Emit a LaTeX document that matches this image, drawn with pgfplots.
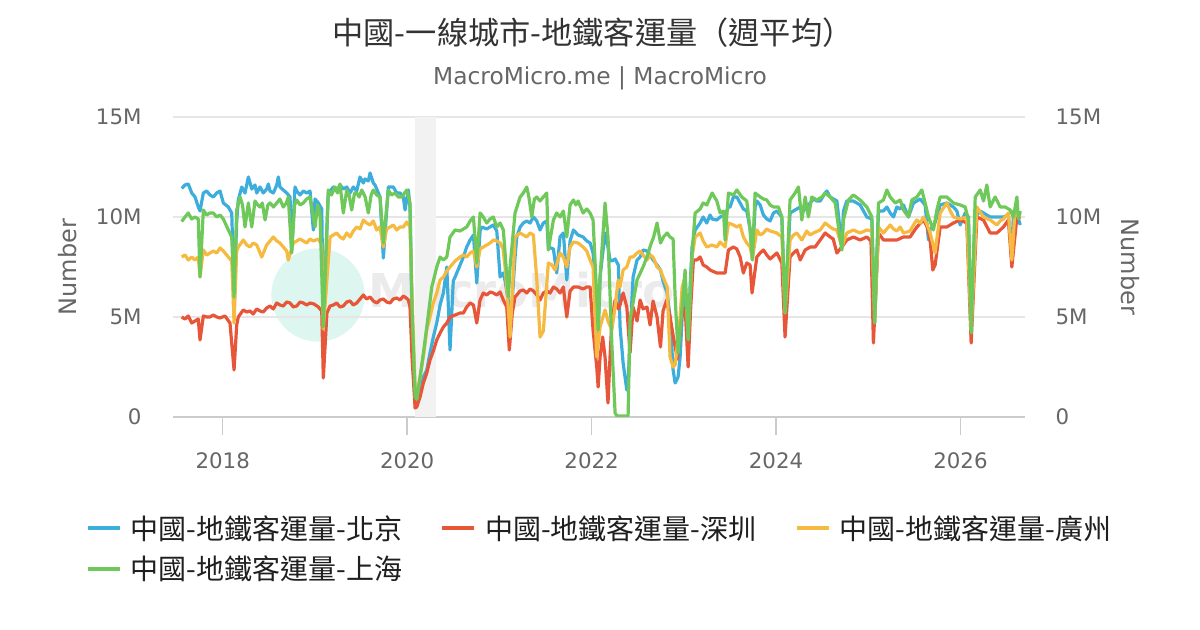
\documentclass[border=0pt]{standalone}
\usepackage{fontspec}
\setmainfont{DejaVu Sans}
\newfontfamily\cjk{Noto Sans CJK TC}
\usepackage{pgfplots}
\pgfplotsset{compat=1.18}
\definecolor{cBJ}{HTML}{3DADDC}
\definecolor{cSZ}{HTML}{E8563A}
\definecolor{cGZ}{HTML}{F5BA3F}
\definecolor{cSH}{HTML}{6EC85A}
\definecolor{cTitle}{HTML}{333333}
\definecolor{cTick}{HTML}{666666}
\definecolor{cGrid}{HTML}{E6E6E6}
\definecolor{cAxis}{HTML}{CCCCCC}
\definecolor{cBand}{HTML}{F2F2F2}
\definecolor{cMint}{HTML}{DDF7F0}
\definecolor{cWm}{HTML}{EBEBEB}
\begin{document}
\begin{tikzpicture}
\path[use as bounding box] (0pt,0pt) rectangle (900pt,472.5pt);
\node[text=cTitle, font=\cjk\fontsize{23.4}{28}\selectfont] at (444.75pt,447.75pt) {中國-一線城市-地鐵客運量（週平均）};
\node[text=cTick, font=\fontsize{17.5}{21}\selectfont] at (450pt,414pt) {MacroMicro.me | MacroMicro};
\fill[cMint] (238.5pt,251.25pt) circle (35pt);
\node[anchor=west, text=cWm, font=\bfseries\fontsize{35}{40}\selectfont, inner sep=0pt] at (276pt,255pt) {MacroMicro};
\begin{axis}[
  at={(129.75pt,159.75pt)}, anchor=south west,
  width=639pt, height=225pt, scale only axis,
  xmin=2017.461, xmax=2026.70, ymin=0, ymax=15,
  axis x line*=bottom, axis y line*=left,
  y axis line style={draw=none},
  x axis line style={draw=cAxis, line width=1.1pt, -},
  xtick={2018,2020,2022,2024,2026},
  xticklabels={2018,2020,2022,2024,2026},
  ytick={0,5,10,15}, yticklabels={0,5M,10M,15M},
  tick align=outside,
  x tick style={draw=cAxis, line width=1.1pt},
  major tick length=13.5pt,
  y tick style={draw=none},
  ymajorgrids, grid style={draw=cGrid, line width=1.1pt},
  ticklabel style={font=\fontsize{16}{19}\selectfont, text=cTick},
  xticklabel style={inner sep=0pt, yshift=-13pt},
  yticklabel style={inner sep=0pt, xshift=-10pt},
  ylabel={Number},
  every axis y label/.style={at={(axis description cs:-0.1232,0.5)}, rotate=90, anchor=center, font=\fontsize{18}{21}\selectfont, text=cTick},
  legend style={draw=none, fill=none, at={(axis description cs:0,0)}, anchor=north west, xshift=-65.25pt, yshift=-73.5pt, legend columns=3, inner sep=0pt, font=\cjk\fontsize{21}{25}\selectfont, text=black!88, nodes={inner sep=0pt}, row sep=11.25pt, /tikz/every odd column/.append style={column sep=6.75pt}},
  legend cell align=left,
  legend image code/.code={\draw[#1, line width=2.6pt] (0pt,0pt) -- (24pt,0pt);},
  every axis plot/.append style={line width=2.4pt, line join=round},
]
\addplot[draw=none, fill=cBand, forget plot] coordinates {(2020.09,15) (2020.31,15)} \closedcycle;

\addplot[cBJ] coordinates {(2017.555,11.43)(2017.591,11.6)(2017.627,11.65)(2017.664,11.2)(2017.700,11.0)(2017.735,10.5)(2017.754,10.3)(2017.790,11.2)(2017.826,11.3)(2017.862,11.1)(2017.898,11.0)(2017.935,11.2)(2017.971,11.3)(2018.007,10.7)(2018.061,10.5)(2018.098,10.2)(2018.123,6.0)(2018.152,9.8)(2018.169,10.85)(2018.206,11.5)(2018.242,11.2)(2018.278,12.0)(2018.315,11.4)(2018.350,11.6)(2018.369,11.2)(2018.405,11.5)(2018.440,11.2)(2018.477,11.4)(2018.495,11.65)(2018.513,11.3)(2018.549,11.2)(2018.586,11.6)(2018.603,12.0)(2018.621,11.5)(2018.657,11.35)(2018.694,11.2)(2018.730,11.0)(2018.748,8.3)(2018.784,11.5)(2018.803,11.3)(2018.838,11.1)(2018.874,11.3)(2018.911,11.2)(2018.947,11.3)(2018.983,9.35)(2019.001,10.9)(2019.037,10.7)(2019.074,10.4)(2019.091,4.6)(2019.145,11.2)(2019.200,11.5)(2019.236,11.3)(2019.272,11.6)(2019.308,11.4)(2019.345,11.5)(2019.381,11.2)(2019.416,11.5)(2019.453,11.3)(2019.489,12.0)(2019.525,11.7)(2019.543,11.9)(2019.579,11.8)(2019.598,12.2)(2019.633,11.7)(2019.652,11.6)(2019.706,11.0)(2019.742,7.95)(2019.796,11.5)(2019.850,11.5)(2019.887,11.2)(2019.923,11.2)(2019.959,11.0)(2019.977,10.35)(2020.013,11.35)(2020.031,10.5)(2020.053,5.0)(2020.086,1.2)(2020.104,0.75)(2020.140,1.4)(2020.176,2.0)(2020.213,2.35)(2020.248,3.2)(2020.284,4.0)(2020.321,4.7)(2020.357,5.6)(2020.393,6.2)(2020.430,7.5)(2020.465,3.35)(2020.500,6.8)(2020.520,7.0)(2020.574,7.6)(2020.610,8.0)(2020.646,8.5)(2020.683,8.85)(2020.719,9.1)(2020.755,6.7)(2020.791,9.3)(2020.809,9.5)(2020.863,9.4)(2020.935,9.6)(2020.972,9.3)(2021.008,7.0)(2021.043,7.2)(2021.062,6.8)(2021.098,5.8)(2021.116,4.2)(2021.170,8.0)(2021.189,9.0)(2021.225,9.5)(2021.260,9.7)(2021.297,9.8)(2021.333,9.7)(2021.369,10.0)(2021.406,9.8)(2021.441,9.35)(2021.477,9.7)(2021.514,9.8)(2021.531,8.5)(2021.586,8.4)(2021.622,7.2)(2021.658,9.0)(2021.694,9.2)(2021.731,6.85)(2021.767,8.8)(2021.803,9.35)(2021.854,9.1)(2021.908,9.0)(2021.948,8.8)(2021.984,8.7)(2022.016,8.2)(2022.056,6.0)(2022.071,4.0)(2022.092,7.0)(2022.146,9.2)(2022.178,8.5)(2022.200,7.85)(2022.219,7.8)(2022.255,7.9)(2022.290,7.6)(2022.309,4.5)(2022.342,2.7)(2022.382,1.35)(2022.396,1.6)(2022.417,4.0)(2022.450,7.0)(2022.493,7.85)(2022.526,8.0)(2022.558,8.35)(2022.601,8.3)(2022.634,8.1)(2022.667,7.85)(2022.710,7.6)(2022.747,7.35)(2022.775,6.8)(2022.819,6.2)(2022.851,5.0)(2022.884,2.35)(2022.906,1.7)(2022.938,2.0)(2022.960,3.0)(2022.982,5.0)(2023.014,6.0)(2023.047,3.8)(2023.068,6.5)(2023.090,8.5)(2023.123,9.35)(2023.177,9.7)(2023.210,10.0)(2023.249,9.7)(2023.285,10.1)(2023.307,9.9)(2023.358,9.85)(2023.394,10.0)(2023.448,10.1)(2023.484,10.5)(2023.502,10.5)(2023.538,11.0)(2023.575,11.0)(2023.611,10.7)(2023.646,10.4)(2023.683,10.3)(2023.719,9.4)(2023.744,7.9)(2023.773,10.5)(2023.792,10.8)(2023.828,10.6)(2023.863,10.1)(2023.900,9.9)(2023.936,9.8)(2023.972,10.2)(2024.009,10.3)(2024.063,10.0)(2024.098,5.2)(2024.152,10.2)(2024.207,10.35)(2024.262,10.5)(2024.297,10.3)(2024.334,10.5)(2024.406,10.9)(2024.443,10.8)(2024.479,10.8)(2024.533,11.2)(2024.551,11.3)(2024.587,11.0)(2024.660,10.8)(2024.714,8.5)(2024.731,10.3)(2024.768,10.8)(2024.839,10.8)(2024.912,10.6)(2024.985,10.0)(2025.039,9.9)(2025.070,4.7)(2025.111,10.3)(2025.165,10.3)(2025.202,10.5)(2025.238,10.2)(2025.274,10.0)(2025.310,10.5)(2025.346,10.4)(2025.382,10.6)(2025.436,10.0)(2025.490,10.7)(2025.527,10.8)(2025.563,10.9)(2025.617,10.6)(2025.653,8.85)(2025.671,9.4)(2025.707,9.5)(2025.744,10.0)(2025.780,10.6)(2025.852,10.7)(2025.924,10.5)(2025.961,10.3)(2025.997,9.6)(2026.051,10.2)(2026.087,10.0)(2026.116,4.2)(2026.160,10.0)(2026.214,10.3)(2026.286,10.1)(2026.322,10.0)(2026.395,10.0)(2026.466,10.0)(2026.520,10.1)(2026.557,8.0)(2026.575,10.3)(2026.612,10.3)(2026.629,9.9)(2026.648,9.6)};
\addlegendentry{\makebox[232.5pt][l]{中國-地鐵客運量-北京}}

\addplot[cSZ] coordinates {(2017.555,5.0)(2017.591,4.9)(2017.627,5.05)(2017.664,4.7)(2017.700,4.8)(2017.735,4.9)(2017.754,3.85)(2017.790,5.05)(2017.826,5.0)(2017.862,5.0)(2017.898,5.1)(2017.935,5.0)(2017.971,4.95)(2018.025,5.05)(2018.079,4.7)(2018.123,2.35)(2018.152,4.6)(2018.169,5.0)(2018.223,5.35)(2018.260,5.25)(2018.296,5.3)(2018.330,5.15)(2018.369,5.4)(2018.405,5.3)(2018.440,5.25)(2018.477,5.45)(2018.513,5.55)(2018.549,5.4)(2018.586,5.7)(2018.621,5.6)(2018.657,5.55)(2018.694,5.75)(2018.730,5.7)(2018.766,5.5)(2018.803,5.55)(2018.838,5.75)(2018.874,5.7)(2018.911,5.6)(2018.947,5.7)(2018.990,5.65)(2019.037,5.5)(2019.074,5.3)(2019.091,1.95)(2019.130,5.2)(2019.164,5.55)(2019.200,5.6)(2019.236,5.7)(2019.272,5.5)(2019.308,5.55)(2019.345,5.75)(2019.381,5.8)(2019.416,5.6)(2019.453,5.7)(2019.489,5.9)(2019.525,6.1)(2019.560,5.9)(2019.598,6.0)(2019.633,5.8)(2019.670,5.7)(2019.706,5.85)(2019.742,5.9)(2019.778,5.75)(2019.815,5.7)(2019.850,5.9)(2019.887,5.95)(2019.923,5.85)(2019.959,6.05)(2019.990,5.95)(2020.013,5.85)(2020.031,5.5)(2020.053,3.0)(2020.086,0.45)(2020.104,0.5)(2020.140,1.0)(2020.176,1.7)(2020.213,2.2)(2020.248,2.85)(2020.284,3.3)(2020.321,3.85)(2020.357,4.2)(2020.393,4.5)(2020.430,4.7)(2020.465,5.0)(2020.520,5.1)(2020.574,5.2)(2020.610,5.2)(2020.646,5.5)(2020.683,5.7)(2020.719,5.6)(2020.755,4.7)(2020.791,5.85)(2020.826,6.2)(2020.863,6.1)(2020.900,6.25)(2020.935,6.2)(2020.972,6.1)(2021.008,6.25)(2021.043,5.85)(2021.080,5.5)(2021.108,3.35)(2021.140,5.2)(2021.170,6.0)(2021.225,6.3)(2021.260,6.35)(2021.297,6.2)(2021.333,6.4)(2021.369,6.3)(2021.406,6.1)(2021.441,5.85)(2021.477,6.2)(2021.514,6.3)(2021.550,6.2)(2021.586,6.5)(2021.622,6.4)(2021.658,6.2)(2021.694,6.5)(2021.731,5.0)(2021.767,6.3)(2021.803,6.5)(2021.854,6.5)(2021.908,6.4)(2021.948,6.5)(2021.984,6.5)(2022.016,4.35)(2022.056,2.5)(2022.071,1.5)(2022.092,3.0)(2022.120,4.0)(2022.146,3.0)(2022.178,0.7)(2022.200,3.0)(2022.219,4.7)(2022.255,5.85)(2022.290,5.4)(2022.309,5.6)(2022.342,6.2)(2022.382,5.5)(2022.417,3.2)(2022.450,5.5)(2022.493,4.8)(2022.526,5.85)(2022.558,5.4)(2022.601,5.5)(2022.634,4.6)(2022.667,5.8)(2022.710,5.0)(2022.747,3.5)(2022.775,5.3)(2022.815,5.85)(2022.851,5.0)(2022.887,4.0)(2022.930,2.9)(2022.960,4.3)(2022.990,5.5)(2023.020,5.0)(2023.047,2.5)(2023.075,5.5)(2023.104,7.85)(2023.140,7.85)(2023.177,8.0)(2023.210,7.6)(2023.249,7.5)(2023.285,7.35)(2023.307,7.3)(2023.358,7.2)(2023.394,7.2)(2023.448,7.2)(2023.484,8.35)(2023.538,8.5)(2023.575,8.4)(2023.611,8.0)(2023.646,7.2)(2023.683,7.7)(2023.719,7.6)(2023.740,6.2)(2023.792,8.0)(2023.828,8.2)(2023.863,8.35)(2023.900,8.1)(2023.936,7.9)(2024.009,8.2)(2024.063,7.7)(2024.098,4.0)(2024.152,8.0)(2024.190,8.2)(2024.226,8.35)(2024.262,7.85)(2024.316,8.35)(2024.370,8.5)(2024.424,8.5)(2024.479,8.85)(2024.533,9.2)(2024.587,9.0)(2024.620,8.9)(2024.660,8.2)(2024.714,8.5)(2024.768,8.85)(2024.839,9.0)(2024.912,8.85)(2024.985,9.0)(2025.030,8.8)(2025.056,3.7)(2025.111,9.2)(2025.165,8.85)(2025.238,8.85)(2025.310,8.85)(2025.382,9.0)(2025.454,9.0)(2025.527,9.5)(2025.599,9.85)(2025.640,9.5)(2025.671,8.85)(2025.700,7.35)(2025.725,7.6)(2025.780,9.5)(2025.852,9.5)(2025.924,9.7)(2025.997,9.85)(2026.069,9.7)(2026.116,3.7)(2026.178,10.0)(2026.249,9.85)(2026.322,9.2)(2026.395,9.2)(2026.466,9.5)(2026.520,9.85)(2026.557,7.5)(2026.612,10.0)(2026.648,9.9)};
\addlegendentry{\makebox[232.5pt][l]{中國-地鐵客運量-深圳}}

\addplot[cGZ] coordinates {(2017.555,8.0)(2017.591,8.1)(2017.627,7.85)(2017.664,8.0)(2017.700,7.85)(2017.735,8.0)(2017.754,7.0)(2017.790,8.35)(2017.826,8.1)(2017.862,8.2)(2017.898,8.3)(2017.935,8.2)(2017.971,8.45)(2018.007,8.3)(2018.061,8.0)(2018.098,7.8)(2018.123,4.7)(2018.152,8.3)(2018.169,8.5)(2018.223,8.85)(2018.260,8.6)(2018.296,8.5)(2018.330,8.7)(2018.369,8.6)(2018.423,8.0)(2018.477,8.6)(2018.513,8.8)(2018.549,9.0)(2018.586,8.8)(2018.621,8.7)(2018.657,8.5)(2018.694,8.3)(2018.711,7.85)(2018.766,8.7)(2018.803,8.8)(2018.838,8.9)(2018.874,8.8)(2018.911,8.7)(2018.947,8.9)(2018.983,8.8)(2019.037,8.9)(2019.074,8.6)(2019.091,4.4)(2019.164,9.0)(2019.200,9.1)(2019.236,9.2)(2019.272,9.0)(2019.308,8.9)(2019.345,9.2)(2019.381,9.0)(2019.416,9.3)(2019.453,9.5)(2019.489,9.4)(2019.525,9.85)(2019.560,9.7)(2019.598,9.6)(2019.633,9.8)(2019.670,9.35)(2019.706,9.5)(2019.742,8.5)(2019.778,9.4)(2019.815,9.5)(2019.850,9.6)(2019.887,9.35)(2019.923,9.5)(2019.959,9.5)(2019.996,9.75)(2020.031,9.5)(2020.053,6.0)(2020.086,1.5)(2020.104,0.9)(2020.140,2.0)(2020.176,3.0)(2020.213,4.35)(2020.248,5.0)(2020.284,5.7)(2020.321,6.2)(2020.357,6.85)(2020.393,7.0)(2020.430,7.3)(2020.465,7.5)(2020.520,7.8)(2020.574,8.0)(2020.610,8.1)(2020.646,8.0)(2020.683,8.2)(2020.719,8.3)(2020.755,7.5)(2020.791,8.4)(2020.826,8.5)(2020.863,8.6)(2020.900,8.7)(2020.935,8.85)(2020.972,8.8)(2021.008,8.7)(2021.040,8.4)(2021.062,7.5)(2021.098,5.35)(2021.116,4.0)(2021.170,9.0)(2021.225,9.2)(2021.260,9.1)(2021.297,9.0)(2021.333,9.2)(2021.369,9.1)(2021.406,6.85)(2021.441,4.0)(2021.477,4.3)(2021.531,7.7)(2021.570,7.6)(2021.604,7.35)(2021.658,8.2)(2021.694,8.0)(2021.731,7.5)(2021.767,8.5)(2021.803,8.75)(2021.854,8.7)(2021.908,8.5)(2021.948,8.3)(2021.984,7.85)(2022.016,7.5)(2022.056,3.0)(2022.092,4.5)(2022.146,5.35)(2022.178,4.8)(2022.219,4.35)(2022.255,5.5)(2022.288,6.85)(2022.309,6.5)(2022.342,7.35)(2022.382,7.5)(2022.417,8.0)(2022.450,8.0)(2022.493,8.2)(2022.526,8.3)(2022.558,8.1)(2022.601,7.85)(2022.634,8.1)(2022.667,8.0)(2022.710,7.5)(2022.747,7.35)(2022.775,7.0)(2022.819,6.5)(2022.851,3.0)(2022.884,2.5)(2022.906,2.6)(2022.938,4.0)(2022.960,5.0)(2022.982,6.5)(2023.014,7.0)(2023.047,4.0)(2023.090,8.0)(2023.123,9.0)(2023.177,9.2)(2023.210,8.8)(2023.249,8.5)(2023.307,8.6)(2023.358,8.5)(2023.394,8.75)(2023.448,8.5)(2023.484,9.7)(2023.538,9.6)(2023.575,9.5)(2023.611,9.6)(2023.646,9.0)(2023.683,8.7)(2023.719,8.5)(2023.744,7.9)(2023.792,9.35)(2023.828,9.1)(2023.863,9.2)(2023.900,9.4)(2023.936,9.3)(2024.009,9.2)(2024.063,9.0)(2024.098,5.2)(2024.152,8.85)(2024.190,9.1)(2024.226,9.2)(2024.280,8.85)(2024.334,9.3)(2024.370,9.1)(2024.406,9.2)(2024.479,9.35)(2024.533,9.7)(2024.587,9.5)(2024.620,9.4)(2024.660,9.35)(2024.714,8.5)(2024.768,9.2)(2024.839,9.35)(2024.912,9.2)(2024.985,9.35)(2025.039,9.3)(2025.070,4.8)(2025.111,9.5)(2025.165,9.2)(2025.238,9.6)(2025.274,9.4)(2025.310,9.3)(2025.346,9.5)(2025.382,9.2)(2025.454,9.3)(2025.490,9.6)(2025.527,9.85)(2025.563,9.7)(2025.599,10.0)(2025.640,9.6)(2025.671,9.2)(2025.725,8.2)(2025.780,10.2)(2025.852,10.7)(2025.890,10.3)(2025.924,10.0)(2025.997,9.9)(2026.069,10.0)(2026.116,4.3)(2026.178,10.5)(2026.249,10.0)(2026.322,9.85)(2026.395,9.6)(2026.430,9.8)(2026.466,9.9)(2026.520,10.2)(2026.557,7.85)(2026.593,10.4)(2026.629,10.0)(2026.648,10.2)};
\addlegendentry{\makebox[232.5pt][l]{中國-地鐵客運量-廣州}}

\addplot[cSH] coordinates {(2017.555,9.77)(2017.591,10.0)(2017.627,10.2)(2017.664,9.9)(2017.700,10.0)(2017.735,9.9)(2017.754,7.0)(2017.790,10.35)(2017.826,10.1)(2017.862,10.2)(2017.898,10.2)(2017.935,10.0)(2017.971,10.1)(2018.007,9.9)(2018.061,9.35)(2018.098,9.0)(2018.123,6.0)(2018.152,10.35)(2018.188,11.0)(2018.215,10.6)(2018.242,9.5)(2018.278,10.7)(2018.315,9.5)(2018.350,10.8)(2018.380,10.6)(2018.405,10.5)(2018.430,10.7)(2018.459,9.85)(2018.490,10.6)(2018.513,10.7)(2018.550,10.5)(2018.586,10.7)(2018.620,10.9)(2018.657,10.5)(2018.690,10.7)(2018.711,11.0)(2018.748,8.2)(2018.780,10.6)(2018.803,10.85)(2018.840,10.6)(2018.874,10.7)(2018.910,10.9)(2018.947,11.0)(2019.001,9.5)(2019.030,10.6)(2019.055,10.2)(2019.091,4.5)(2019.145,11.35)(2019.180,11.1)(2019.218,11.5)(2019.245,11.2)(2019.272,11.65)(2019.308,10.2)(2019.345,11.35)(2019.370,11.1)(2019.399,10.35)(2019.430,11.2)(2019.453,11.2)(2019.480,11.0)(2019.508,11.35)(2019.545,11.0)(2019.579,10.2)(2019.610,11.1)(2019.633,11.35)(2019.670,11.1)(2019.706,11.0)(2019.742,8.7)(2019.796,11.35)(2019.830,11.1)(2019.869,11.2)(2019.905,11.0)(2019.941,11.0)(2019.996,11.35)(2020.031,10.7)(2020.053,5.5)(2020.086,1.0)(2020.104,0.9)(2020.140,2.0)(2020.176,3.2)(2020.213,4.5)(2020.248,5.8)(2020.267,6.5)(2020.284,6.8)(2020.321,7.5)(2020.357,8.0)(2020.393,7.85)(2020.430,8.0)(2020.465,9.0)(2020.520,9.35)(2020.574,9.3)(2020.610,9.4)(2020.646,9.5)(2020.683,9.8)(2020.719,10.0)(2020.755,7.7)(2020.791,10.2)(2020.826,10.0)(2020.863,9.7)(2020.900,9.9)(2020.935,10.0)(2020.972,9.5)(2021.008,9.7)(2021.043,9.35)(2021.098,6.0)(2021.116,7.5)(2021.170,10.2)(2021.225,11.0)(2021.260,11.2)(2021.297,11.5)(2021.320,11.0)(2021.351,10.0)(2021.380,10.9)(2021.406,11.0)(2021.440,10.8)(2021.477,11.0)(2021.514,11.2)(2021.531,8.35)(2021.586,9.85)(2021.622,10.2)(2021.658,10.0)(2021.694,10.3)(2021.731,9.0)(2021.767,10.6)(2021.803,10.85)(2021.830,10.6)(2021.854,10.8)(2021.908,10.2)(2021.948,10.4)(2021.984,10.2)(2022.016,9.85)(2022.056,6.0)(2022.071,4.35)(2022.092,7.0)(2022.146,10.7)(2022.178,9.0)(2022.219,3.7)(2022.255,0.2)(2022.275,0.05)(2022.396,0.05)(2022.417,4.85)(2022.493,6.85)(2022.558,7.5)(2022.601,8.0)(2022.640,8.6)(2022.673,9.0)(2022.710,9.7)(2022.747,8.7)(2022.780,9.0)(2022.819,9.2)(2022.850,9.0)(2022.884,8.9)(2022.906,6.0)(2022.938,3.2)(2022.982,5.5)(2023.014,7.35)(2023.047,3.85)(2023.090,8.2)(2023.123,10.2)(2023.177,10.4)(2023.210,10.7)(2023.249,10.6)(2023.307,11.2)(2023.358,10.8)(2023.394,10.2)(2023.430,10.3)(2023.448,8.85)(2023.484,11.2)(2023.538,11.1)(2023.575,11.35)(2023.629,11.0)(2023.683,10.8)(2023.719,9.35)(2023.744,7.85)(2023.773,11.2)(2023.828,11.0)(2023.865,10.9)(2023.900,10.85)(2023.936,10.6)(2023.972,10.5)(2024.026,10.5)(2024.063,10.0)(2024.098,5.2)(2024.152,10.85)(2024.207,11.2)(2024.243,11.5)(2024.280,9.85)(2024.316,11.0)(2024.351,10.0)(2024.388,11.0)(2024.443,10.85)(2024.497,11.0)(2024.533,11.2)(2024.587,11.0)(2024.642,10.7)(2024.677,9.5)(2024.714,8.35)(2024.731,9.85)(2024.785,10.85)(2024.839,11.1)(2024.912,10.85)(2024.985,10.5)(2025.039,10.0)(2025.070,4.7)(2025.111,10.7)(2025.165,10.85)(2025.202,11.35)(2025.238,11.0)(2025.293,10.7)(2025.346,10.85)(2025.382,10.35)(2025.436,10.0)(2025.473,10.85)(2025.527,11.0)(2025.581,11.35)(2025.617,10.7)(2025.653,10.0)(2025.707,9.35)(2025.744,10.35)(2025.780,11.0)(2025.852,11.0)(2025.924,10.7)(2025.997,10.6)(2026.051,10.5)(2026.087,9.85)(2026.116,4.2)(2026.160,11.0)(2026.214,11.35)(2026.250,10.8)(2026.286,11.6)(2026.322,10.5)(2026.376,11.0)(2026.431,10.5)(2026.485,10.5)(2026.539,10.35)(2026.575,10.0)(2026.612,11.0)(2026.629,9.9)(2026.648,10.3)};
\addlegendentry{\makebox[232.5pt][l]{中國-地鐵客運量-上海}}
\end{axis}
\begin{axis}[
  at={(129.75pt,159.75pt)}, anchor=south west,
  width=639pt, height=225pt, scale only axis,
  xmin=2017.461, xmax=2026.70, ymin=0, ymax=15,
  hide x axis,
  axis y line*=right,
  y axis line style={draw=none},
  ytick={0,5,10,15}, yticklabels={0,5M,10M,15M},
  y tick style={draw=none},
  ticklabel style={font=\fontsize{16}{19}\selectfont, text=cTick},
  yticklabel style={inner sep=0pt, xshift=22.75pt},
  ylabel={Number},
  every axis y label/.style={at={(axis description cs:1.1232,0.5)}, rotate=-90, anchor=center, font=\fontsize{18}{21}\selectfont, text=cTick},
]
\end{axis}
\end{tikzpicture}
\end{document}
